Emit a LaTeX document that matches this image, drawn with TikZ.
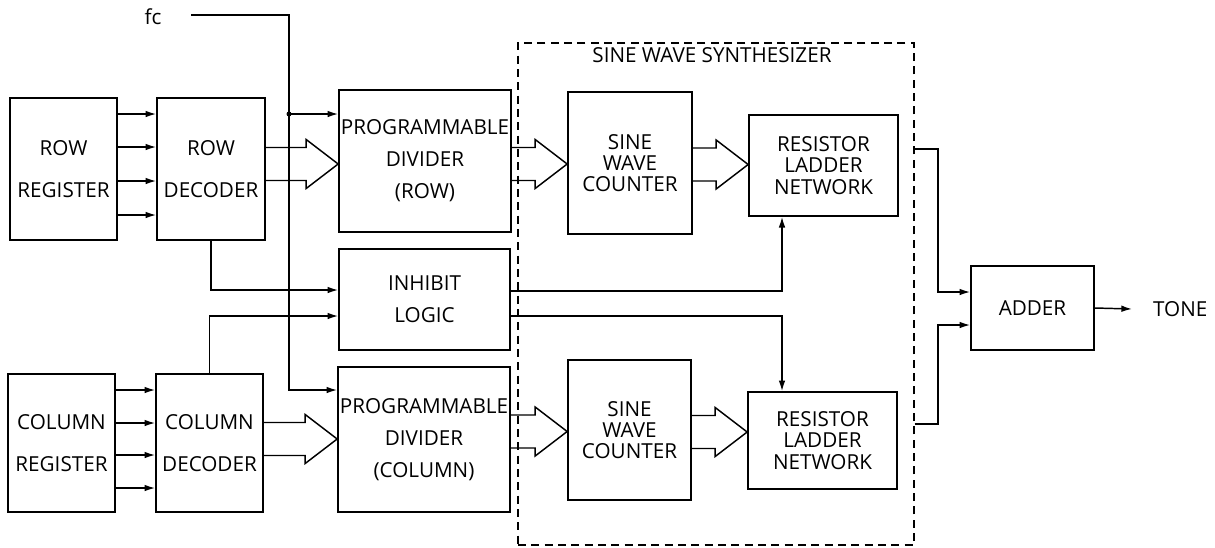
\documentclass[tikz,border=0pt]{standalone}
\usepackage{fontspec}
\setmainfont{Open Sans}
\usetikzlibrary{arrows.meta,calc}

\begin{document}
\begin{tikzpicture}[x=0.75pt,y=0.75pt,yscale=-1,xscale=1,
  >={Latex[length=8pt,width=5pt]},line width=1.1pt,
  font=\fontsize{15.5}{18}\selectfont,
  blk/.style={draw,line width=1.25pt,align=center,inner sep=0pt},
  wide/.style={font=\fontsize{15.5}{31}\selectfont},
  mid/.style={font=\fontsize{15.5}{24}\selectfont},
  tight/.style={font=\fontsize{15.5}{16}\selectfont}]
\useasboundingbox (0,0) rectangle (1215,547);

% synthesizer frame
\node (synth) [draw,dash pattern=on 6pt off 4pt,line width=1.1pt,minimum width=297pt,minimum height=376.5pt] at (716,294) {};
\node (title) at (712,55) {SINE WAVE SYNTHESIZER};

% blocks
\node (rowreg) [blk,wide,minimum width=80.25pt,minimum height=106.5pt] at (63.5,169) {ROW\\REGISTER};
\node (rowdec) [blk,wide,minimum width=81pt,minimum height=106.5pt] at (211,169) {ROW\\DECODER};
\node (colreg) [blk,wide,minimum width=80.25pt,minimum height=103.5pt] at (61.5,443) {COLUMN\\REGISTER};
\node (coldec) [blk,wide,minimum width=80.25pt,minimum height=103.5pt] at (209.5,443) {COLUMN\\DECODER};
\node (progrow) [blk,mid,minimum width=129pt,minimum height=106.5pt] at (425,161) {PROGRAMMABLE\\DIVIDER\\(ROW)};
\node (inhibit) [blk,mid,minimum width=128.25pt,minimum height=75.75pt] at (424.5,299.5) {INHIBIT\\LOGIC};
\node (progcol) [blk,mid,minimum width=129pt,minimum height=108.75pt] at (424,439.5) {PROGRAMMABLE\\DIVIDER\\(COLUMN)};
\node (cntrow) [blk,tight,minimum width=93pt,minimum height=106.5pt] at (630,163) {SINE\\WAVE\\COUNTER};
\node (cntcol) [blk,tight,minimum width=92.25pt,minimum height=105pt] at (629.5,430) {SINE\\WAVE\\COUNTER};
\node (resrow) [blk,tight,minimum width=111.75pt,minimum height=75.75pt] at (823.5,165.5) {RESISTOR\\LADDER\\NETWORK};
\node (rescol) [blk,tight,minimum width=111.75pt,minimum height=72.75pt] at (822.5,440.5) {RESISTOR\\LADDER\\NETWORK};
\node (adder) [blk,minimum width=92.25pt,minimum height=63pt] at (1032.5,308) {ADDER};
\node (tone) [anchor=west] at (1148,309) {TONE};
\node (fc) at (153,17) {fc};

% clock input
\coordinate (fcin) at (191,15);
\coordinate (fcdot) at (289,114);
\draw (fcin) -| (fcdot);
\fill (fcdot) circle (2.5);
\draw[->] (fcdot) -- (progrow.west |- fcdot);
\draw[->] (fcdot) |- (progcol.west |- 0,390);

% register to decoder lines
\foreach \y in {114,147,181,215}
  \draw[->] (rowreg.east |- 0,\y) -- (rowdec.west |- 0,\y);
\foreach \y in {390,423,455,488}
  \draw[->] (colreg.east |- 0,\y) -- (coldec.west |- 0,\y);

% bus arrows
\foreach \a/\b/\y in {rowdec/progrow/164,coldec/progcol/439,progrow/cntrow/164,progcol/cntcol/431.5,cntrow/resrow/164.5,cntcol/rescol/432}
  \draw ($(\a.east |- 0,\y)+(0,-16.5)$) -- ($(\b.west |- 0,\y)+(-32,-16.5)$) -- ++(0,-8)
    -- (\b.west |- 0,\y) -- ($(\b.west |- 0,\y)+(-32,24.5)$) -- ++(0,-8) -- ($(\a.east |- 0,\y)+(0,16.5)$);

% inhibit logic
\draw[->] (rowdec.south) |- ($(inhibit.west)+(0,-9.5)$);
\draw[->] (coldec.north) |- ($(inhibit.west)+(0,16.5)$);
\draw[->] ($(inhibit.east)+(0,-8.5)$) -| ($(resrow.south)+(-41.5,0)$);
\draw[->] ($(inhibit.east)+(0,16.5)$) -| ($(rescol.north)+(-40.5,0)$);

% outputs
\draw[->] (synth.east |- 0,149) -| ($(adder.west)+(-32,-16)$) -- ($(adder.west)+(0,-16)$);
\draw[->] (synth.east |- 0,424) -| ($(adder.west)+(-32,17)$) -- ($(adder.west)+(0,17)$);
\draw[->] (adder.east) -- ($(tone.west)+(-16,0)$);
\end{tikzpicture}
\end{document}
